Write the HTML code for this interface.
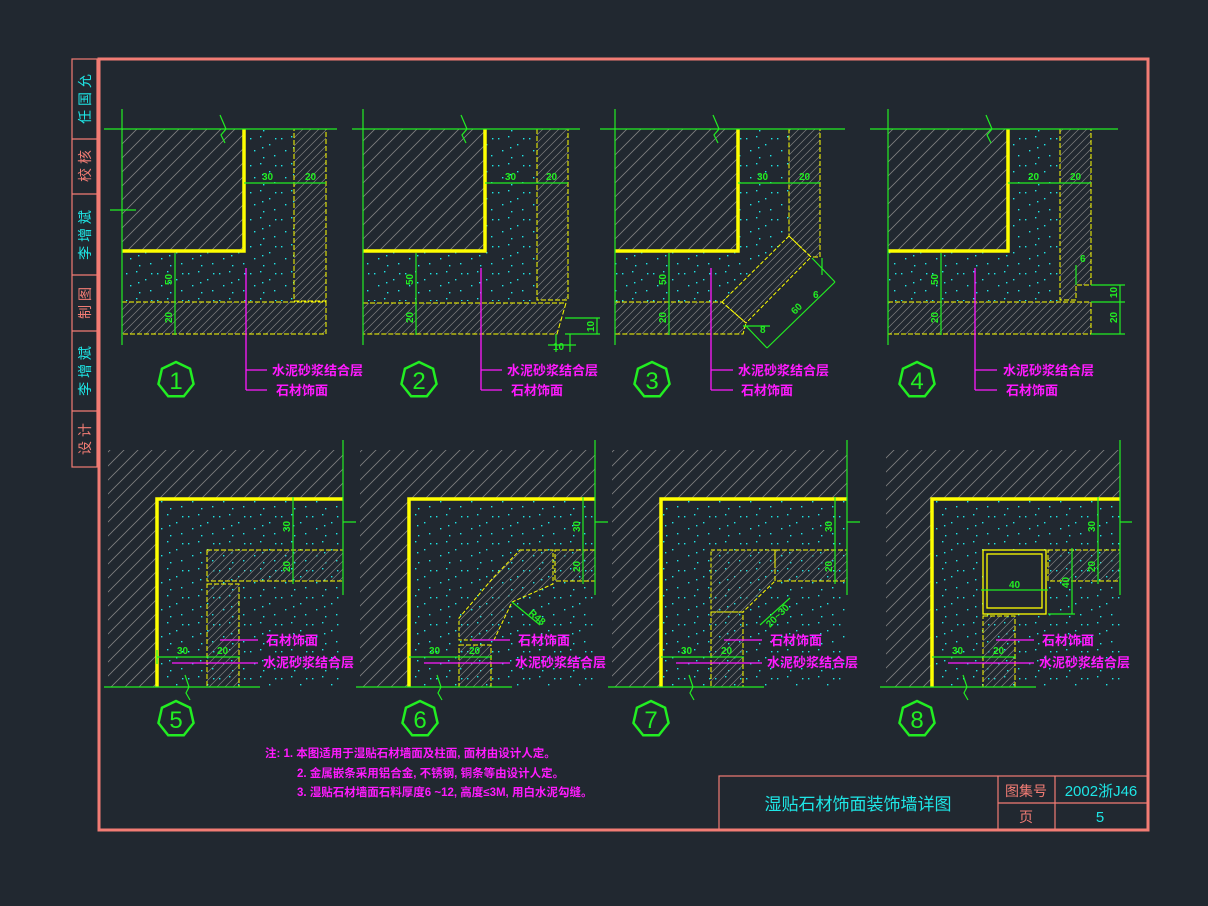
<!DOCTYPE html>
<html><head><meta charset="utf-8"><style>
html,body{margin:0;padding:0;background:#212830;}
svg{display:block;}
.t{font-family:"Liberation Sans","Noto Sans CJK SC",sans-serif;}
.m{fill:#ff1aff;font-size:13px;font-weight:bold;font-family:"Liberation Sans","Noto Sans CJK SC",sans-serif;}
.d{fill:#22ee22;font-size:10px;font-weight:bold;font-family:"Liberation Sans",sans-serif;}
.n{fill:#22ee22;font-size:24px;font-family:"Liberation Sans",sans-serif;}
</style></head><body>
<svg width="1208" height="906" viewBox="0 0 1208 906" xmlns="http://www.w3.org/2000/svg">
<defs>
<pattern id="h" patternUnits="userSpaceOnUse" width="14" height="14"><path d="M-1,15 L15,-1 M-4,4 L4,-4 M10,18 L18,10" stroke="#808080" stroke-width="0.8"/></pattern>
<pattern id="hs" patternUnits="userSpaceOnUse" width="8" height="8"><path d="M-1,9 L9,-1 M-2,2 L2,-2 M6,10 L10,6" stroke="#808080" stroke-width="0.7"/></pattern>
<pattern id="s" patternUnits="userSpaceOnUse" width="31" height="27"><g fill="#1ee6e6"><rect x="2" y="3" width="1.4" height="1.4"/><rect x="12" y="1" width="1.4" height="1.4"/><rect x="21" y="9" width="1.4" height="1.4"/><rect x="6" y="15" width="1.4" height="1.4"/><rect x="26" y="20" width="1.4" height="1.4"/><rect x="15" y="22" width="1.4" height="1.4"/><rect x="27" y="3" width="1.4" height="1.4"/><rect x="14" y="12" width="1.4" height="1.4"/></g></pattern>
<polygon id="hp" points="0,-18 14.07,-11.22 17.55,4 7.81,16.22 -7.81,16.22 -17.55,4 -14.07,-11.22" fill="none" stroke="#22ee22" stroke-width="2.5"/>
</defs>

<!-- frame -->
<rect x="99" y="59" width="1049" height="771" fill="none" stroke="#f27c74" stroke-width="3"/>
<g stroke="#f27c74" stroke-width="1.2" fill="none">
<rect x="72" y="59" width="25" height="408"/>
<path d="M72,139H97M72,194H97M72,275H97M72,331H97M72,411H97"/>
<rect x="719" y="776" width="429" height="54"/>
<path d="M998,776V830M1055,776V830M998,803H1148"/>
</g>
<g class="t" font-size="14">
<text transform="translate(90,99) rotate(-90)" text-anchor="middle" fill="#1ee6e6">任 国 允</text>
<text transform="translate(90,166) rotate(-90)" text-anchor="middle" fill="#f27c74">校 核</text>
<text transform="translate(90,235) rotate(-90)" text-anchor="middle" fill="#1ee6e6">李 增 斌</text>
<text transform="translate(90,303) rotate(-90)" text-anchor="middle" fill="#f27c74">制 图</text>
<text transform="translate(90,371) rotate(-90)" text-anchor="middle" fill="#1ee6e6">李 增 斌</text>
<text transform="translate(90,439) rotate(-90)" text-anchor="middle" fill="#f27c74">设 计</text>
</g>

<!-- detail 1 -->
<g>
<rect x="122" y="129" width="122" height="122" fill="url(#h)"/>
<path d="M244,129H294V301H122V251H244Z" fill="url(#s)"/>
<rect x="294" y="129" width="32" height="172" fill="url(#hs)" stroke="#ffff00" stroke-dasharray="5,2"/>
<rect x="122" y="302" width="204" height="32" fill="url(#hs)" stroke="#ffff00" stroke-dasharray="5,2"/>
<path d="M244,129V251H122" stroke="#ffff00" stroke-width="3.5" fill="none"/>
<g stroke="#22ee22" fill="none" stroke-width="1.2">
<path d="M104,129H337M122,109V345M220,115L226,129 221,135 225,143M110,210H136"/>
<path d="M244,183H326M175,253V335"/>
</g>
<text class="d" x="262" y="180">30</text><text class="d" x="305" y="180">20</text>
<text class="d" transform="translate(172,285) rotate(-90)">50</text><text class="d" transform="translate(172,323) rotate(-90)">20</text>
<path d="M246,268V390M246,370H267M246,390H267" stroke="#ff1aff" stroke-width="1.3" fill="none"/>
<text class="m" x="272" y="375">水泥砂浆结合层</text><text class="m" x="276" y="395">石材饰面</text>
<use href="#hp" x="176" y="380"/><text class="n" x="176" y="389" text-anchor="middle">1</text>
</g>

<!-- detail 2 -->
<g>
<rect x="363" y="129" width="122" height="122" fill="url(#h)"/>
<path d="M485,129H537V301H363V251H485Z" fill="url(#s)"/>
<rect x="537" y="129" width="31" height="171" fill="url(#hs)" stroke="#ffff00" stroke-dasharray="5,2"/>
<polygon points="363,303 566,303 557,334 363,334" fill="url(#hs)" stroke="#ffff00" stroke-dasharray="5,2"/>
<path d="M485,129V251H363" stroke="#ffff00" stroke-width="3.5" fill="none"/>
<g stroke="#22ee22" fill="none" stroke-width="1.2">
<path d="M352,129H580M363,109V345M461,115L467,129 462,135 466,143"/>
<path d="M485,183H568M416,253V335M565,318H600M565,334H600M597,318V334M556,334V352M570,334V352M548,345H576"/>
</g>
<text class="d" x="505" y="180">30</text><text class="d" x="546" y="180">20</text>
<text class="d" transform="translate(413,285) rotate(-90)">50</text><text class="d" transform="translate(413,323) rotate(-90)">20</text>
<text class="d" transform="translate(594,332) rotate(-90)">10</text><text class="d" x="553" y="350">10</text>
<path d="M481,268V390M481,370H502M481,390H502" stroke="#ff1aff" stroke-width="1.3" fill="none"/>
<text class="m" x="507" y="375">水泥砂浆结合层</text><text class="m" x="511" y="395">石材饰面</text>
<use href="#hp" x="419" y="380"/><text class="n" x="419" y="389" text-anchor="middle">2</text>
</g>

<!-- detail 3 -->
<g>
<rect x="615" y="129" width="123" height="122" fill="url(#h)"/>
<path d="M738,129H789V236L722,302H615V251H738Z" fill="url(#s)"/>
<polygon points="789,129 820,129 820,257 811,257 789,236" fill="url(#hs)" stroke="#ffff00" stroke-dasharray="5,2"/>
<polygon points="615,302 722,302 746,323 743,334 615,334" fill="url(#hs)" stroke="#ffff00" stroke-dasharray="5,2"/>
<polygon points="722,302 789,236 811,257 746,323" fill="url(#hs)" stroke="#ffff00" stroke-dasharray="4,2"/>
<path d="M738,129V251H615" stroke="#ffff00" stroke-width="3.5" fill="none"/>
<g stroke="#22ee22" fill="none" stroke-width="1.2">
<path d="M600,129H845M615,109V345M713,115L719,129 714,135 718,143"/>
<path d="M738,183H820M669,253V335M812,258L835,282M746,326L767,348M767,348L835,282M822,258V275M743,326H770"/>
</g>
<text class="d" x="757" y="180">30</text><text class="d" x="799" y="180">20</text>
<text class="d" transform="translate(666,285) rotate(-90)">50</text><text class="d" transform="translate(666,323) rotate(-90)">20</text>
<text class="d" transform="translate(795,315) rotate(-45)">60</text><text class="d" x="813" y="298">6</text><text class="d" x="760" y="333">8</text>
<path d="M711,268V390M711,370H733M711,390H733" stroke="#ff1aff" stroke-width="1.3" fill="none"/>
<text class="m" x="738" y="375">水泥砂浆结合层</text><text class="m" x="741" y="395">石材饰面</text>
<use href="#hp" x="652" y="380"/><text class="n" x="652" y="389" text-anchor="middle">3</text>
</g>

<!-- detail 4 -->
<g>
<rect x="888" y="129" width="120" height="122" fill="url(#h)"/>
<path d="M1008,129H1060V301H888V251H1008Z" fill="url(#s)"/>
<polygon points="1060,129 1091,129 1091,285 1076,285 1076,300 1060,300" fill="url(#hs)" stroke="#ffff00" stroke-dasharray="5,2"/>
<rect x="888" y="302" width="203" height="32" fill="url(#hs)" stroke="#ffff00" stroke-dasharray="5,2"/>
<path d="M1008,129V251H888" stroke="#ffff00" stroke-width="3.5" fill="none"/>
<g stroke="#22ee22" fill="none" stroke-width="1.2">
<path d="M870,129H1118M888,109V345M986,115L992,129 987,135 991,143"/>
<path d="M1008,183H1091M941,253V335M1076,265V285M1091,285H1125M1091,302H1125M1091,334H1125M1120,285V334"/>
</g>
<text class="d" x="1028" y="180">20</text><text class="d" x="1070" y="180">20</text>
<text class="d" transform="translate(938,285) rotate(-90)">50</text><text class="d" transform="translate(938,323) rotate(-90)">20</text>
<text class="d" transform="translate(1117,298) rotate(-90)">10</text><text class="d" transform="translate(1117,323) rotate(-90)">20</text><text class="d" x="1080" y="262">6</text>
<path d="M975,268V390M975,370H997M975,390H997" stroke="#ff1aff" stroke-width="1.3" fill="none"/>
<text class="m" x="1003" y="375">水泥砂浆结合层</text><text class="m" x="1006" y="395">石材饰面</text>
<use href="#hp" x="917" y="380"/><text class="n" x="917" y="389" text-anchor="middle">4</text>
</g>

<!-- detail 5 -->
<g>
<path d="M108,450H343V499H157V687H108Z" fill="url(#h)"/>
<rect x="157" y="499" width="186" height="188" fill="url(#s)"/>
<rect x="207" y="550" width="136" height="31" fill="url(#hs)" stroke="#ffff00" stroke-dasharray="5,2"/>
<rect x="207" y="584" width="32" height="103" fill="url(#hs)" stroke="#ffff00" stroke-dasharray="5,2"/>
<path d="M157,687V499H343" stroke="#ffff00" stroke-width="3.5" fill="none"/>
<g stroke="#22ee22" fill="none" stroke-width="1.2">
<path d="M104,687H260M343,440V595M185,675L189,687 186,693 190,700M343,522H356"/>
<path d="M293,497V584M157,657H240M157,650V664"/>
</g>
<text class="d" transform="translate(290,532) rotate(-90)">30</text><text class="d" transform="translate(290,572) rotate(-90)">20</text>
<text class="d" x="177" y="654">30</text><text class="d" x="217" y="654">20</text>
<path d="M220,640H258M172,663H258" stroke="#ff1aff" stroke-width="1.3" fill="none"/>
<text class="m" x="266" y="645">石材饰面</text><text class="m" x="263" y="667">水泥砂浆结合层</text>
<use href="#hp" x="176" y="719"/><text class="n" x="176" y="728" text-anchor="middle">5</text>
</g>

<!-- detail 6 -->
<g>
<path d="M360,450H595V499H409V687H360Z" fill="url(#h)"/>
<rect x="409" y="499" width="186" height="188" fill="url(#s)"/>
<rect x="555" y="550" width="40" height="31" fill="url(#hs)" stroke="#ffff00" stroke-dasharray="5,2"/>
<polygon points="520,550 553,550 553,584 512,602 494,640 459,640 459,618 493,578" fill="url(#hs)" stroke="#ffff00" stroke-dasharray="4,2"/>
<rect x="459" y="645" width="32" height="42" fill="url(#hs)" stroke="#ffff00" stroke-dasharray="5,2"/>
<path d="M409,687V499H595" stroke="#ffff00" stroke-width="3.5" fill="none"/>
<g stroke="#22ee22" fill="none" stroke-width="1.2">
<path d="M356,687H512M595,440V595M437,675L441,687 438,693 442,700M595,522H608"/>
<path d="M583,497V584M409,657H492M512,602L540,625"/>
</g>
<text class="d" transform="translate(580,532) rotate(-90)">30</text><text class="d" transform="translate(580,572) rotate(-90)">20</text>
<text class="d" x="429" y="654">30</text><text class="d" x="469" y="654">20</text><text class="d" transform="translate(528,614) rotate(40)">R48</text>
<path d="M472,640H510M424,663H510" stroke="#ff1aff" stroke-width="1.3" fill="none"/>
<text class="m" x="518" y="645">石材饰面</text><text class="m" x="515" y="667">水泥砂浆结合层</text>
<use href="#hp" x="420" y="719"/><text class="n" x="420" y="728" text-anchor="middle">6</text>
</g>

<!-- detail 7 -->
<g>
<path d="M612,450H847V499H661V687H612Z" fill="url(#h)"/>
<rect x="661" y="499" width="186" height="188" fill="url(#s)"/>
<rect x="775" y="550" width="72" height="31" fill="url(#hs)" stroke="#ffff00" stroke-dasharray="5,2"/>
<polygon points="711,550 775,550 775,581 743,612 711,612" fill="url(#hs)" stroke="#ffff00" stroke-dasharray="4,2"/>
<rect x="711" y="612" width="32" height="75" fill="url(#hs)" stroke="#ffff00" stroke-dasharray="5,2"/>
<path d="M661,687V499H847" stroke="#ffff00" stroke-width="3.5" fill="none"/>
<g stroke="#22ee22" fill="none" stroke-width="1.2">
<path d="M608,687H764M847,440V595M689,675L693,687 690,693 694,700M847,522H860"/>
<path d="M835,497V584M661,657H744M760,625L790,598"/>
</g>
<text class="d" transform="translate(832,532) rotate(-90)">30</text><text class="d" transform="translate(832,572) rotate(-90)">20</text>
<text class="d" x="681" y="654">30</text><text class="d" x="721" y="654">20</text><text class="d" transform="translate(770,628) rotate(-45)">20~30</text>
<path d="M724,640H762M676,663H762" stroke="#ff1aff" stroke-width="1.3" fill="none"/>
<text class="m" x="770" y="645">石材饰面</text><text class="m" x="767" y="667">水泥砂浆结合层</text>
<use href="#hp" x="651" y="719"/><text class="n" x="651" y="728" text-anchor="middle">7</text>
</g>

<!-- detail 8 -->
<g>
<path d="M886,450H1120V499H932V687H886Z" fill="url(#h)"/>
<rect x="932" y="499" width="188" height="188" fill="url(#s)"/>
<rect x="1048" y="550" width="72" height="31" fill="url(#hs)" stroke="#ffff00" stroke-dasharray="5,2"/>
<rect x="983" y="550" width="63" height="64" fill="#212830" stroke="#ffff00" stroke-width="1.3"/>
<rect x="987" y="554" width="55" height="54" fill="none" stroke="#ffff00" stroke-width="1.3"/>
<rect x="983" y="616" width="32" height="71" fill="url(#hs)" stroke="#ffff00" stroke-dasharray="5,2"/>
<path d="M932,687V499H1120" stroke="#ffff00" stroke-width="3.5" fill="none"/>
<g stroke="#22ee22" fill="none" stroke-width="1.2">
<path d="M880,687H1036M1120,440V595M963,675L967,687 964,693 968,700M1120,522H1132"/>
<path d="M1098,497V584M932,657H1016M981,590H1048M1072,548V614M1048,614H1075"/>
</g>
<text class="d" transform="translate(1095,532) rotate(-90)">30</text><text class="d" transform="translate(1095,572) rotate(-90)">20</text>
<text class="d" x="952" y="654">30</text><text class="d" x="993" y="654">20</text><text class="d" x="1009" y="588">40</text><text class="d" transform="translate(1069,588) rotate(-90)">40</text>
<path d="M996,640H1034M948,663H1034" stroke="#ff1aff" stroke-width="1.3" fill="none"/>
<text class="m" x="1042" y="645">石材饰面</text><text class="m" x="1039" y="667">水泥砂浆结合层</text>
<use href="#hp" x="917" y="719"/><text class="n" x="917" y="728" text-anchor="middle">8</text>
</g>

<!-- notes -->
<g fill="#ff1aff" font-size="11.5" font-weight="bold" class="t">
<text x="265" y="757">注:   1. 本图适用于湿贴石材墙面及柱面, 面材由设计人定。</text>
<text x="297" y="777">2. 金属嵌条采用铝合金, 不锈钢, 铜条等由设计人定。</text>
<text x="297" y="796">3. 湿贴石材墙面石料厚度6 ~12, 高度≤3M, 用白水泥勾缝。</text>
</g>
<!-- title -->
<text x="858" y="810" text-anchor="middle" class="t" font-size="17" fill="#1ee6e6">湿贴石材饰面装饰墙详图</text>
<text x="1026" y="796" text-anchor="middle" class="t" font-size="14" fill="#f27c74">图集号</text>
<text x="1101" y="796" text-anchor="middle" class="t" font-size="15" fill="#1ee6e6">2002浙J46</text>
<text x="1026" y="822" text-anchor="middle" class="t" font-size="14" fill="#f27c74">页</text>
<text x="1100" y="822" text-anchor="middle" class="t" font-size="15" fill="#1ee6e6">5</text>
</svg>
</body></html>
